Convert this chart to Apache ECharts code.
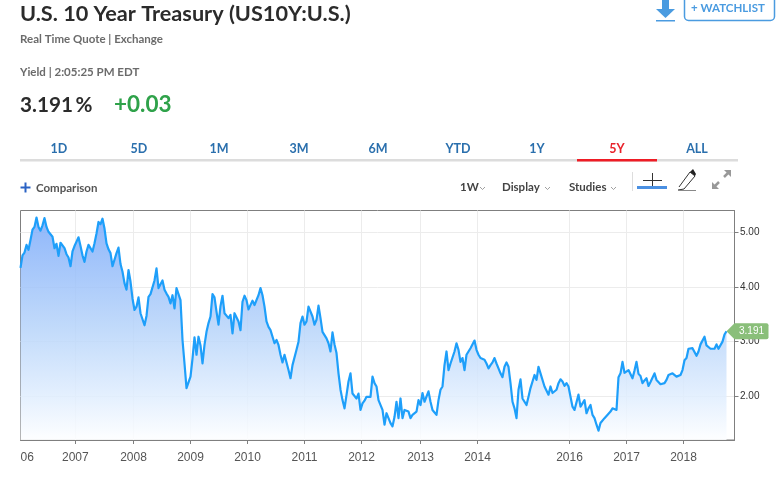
<!DOCTYPE html>
<html><head><meta charset="utf-8">
<style>html,body{margin:0;padding:0;background:#fff}#c{width:778px;height:479px}</style>
<script src="https://cdn.jsdelivr.net/npm/echarts@6/dist/echarts.min.js"></script>
</head><body><div id="c"></div>
<script>
const yields = [
4.35,4.58,4.63,4.77,4.68,4.86,5.05,5.10,5.27,5.10,5.03,5.13,5.26,5.10,5.01,4.98,4.92,4.71,4.79,4.57,4.81,4.81,4.71,4.60,4.54,4.38,4.65,4.75,4.83,4.91,4.75,4.58,4.46,4.65,4.77,4.77,4.65,4.80,4.98,5.19,5.15,5.25,5.07,4.80,4.69,
4.62,4.38,4.36,4.62,4.72,4.42,4.28,4.07,3.95,4.31,4.10,3.79,3.58,3.64,3.81,3.52,3.49,3.30,3.47,3.82,3.87,3.84,4.12,4.34,3.98,3.98,4.12,3.95,3.88,3.82,3.70,3.85,3.61,3.98,3.98,3.76,3.03,2.60,2.15,2.15,2.36,2.69,3.08,2.76,3.09,
2.93,2.60,2.94,3.18,3.34,3.46,3.87,3.81,3.55,3.31,3.65,3.84,3.52,3.52,3.43,3.49,3.15,3.52,3.52,3.37,3.21,3.73,3.84,3.76,3.59,3.57,3.75,3.67,3.70,3.85,3.98,3.85,3.64,3.37,3.27,3.21,3.18,2.97,3.03,2.94,2.76,2.62,2.76,2.79,2.48,
2.33,2.57,2.54,2.85,3.00,3.34,3.46,3.31,3.37,3.64,3.64,3.46,3.31,3.40,3.66,3.43,3.18,3.18,3.06,2.97,2.82,3.17,2.95,2.79,2.42,2.12,1.93,1.78,2.02,2.27,2.42,2.05,2.02,1.96,2.05,1.75,1.87,1.92,1.99,1.99,1.99,2.36,2.24,2.18,1.93,
1.90,1.75,1.48,1.69,1.60,1.51,1.45,1.62,1.90,1.60,1.96,1.60,1.75,1.75,1.72,1.60,1.66,1.66,1.72,1.93,1.84,2.06,1.90,1.93,2.09,1.90,1.75,1.72,1.66,1.93,2.12,2.18,2.57,2.82,2.48,2.60,2.57,2.82,2.97,2.85,2.63,2.70,2.48,2.76,2.76,
2.88,2.91,3.02,2.85,2.76,2.70,2.70,2.67,2.60,2.51,2.57,2.62,2.70,2.60,2.51,2.42,2.35,2.54,2.62,2.54,2.24,1.90,1.78,1.60,2.12,2.31,1.96,1.96,1.84,1.99,2.15,2.15,2.39,2.30,2.54,2.42,2.39,2.18,2.15,2.03,2.18,2.06,2.03,2.12,2.24,
2.31,2.27,2.19,2.24,2.18,1.99,1.81,1.75,1.76,2.03,1.81,1.78,1.93,1.69,1.78,1.84,1.66,1.60,1.48,1.37,1.51,1.54,1.60,1.63,1.68,1.72,1.78,1.81,1.75,2.35,2.42,2.63,2.43,2.41,2.48,2.47,2.33,2.47,2.63,2.41,2.37,2.24,2.29,2.33,2.19,
2.26,2.27,2.42,2.30,2.27,2.22,2.21,2.24,2.30,2.39,2.36,2.42,2.39,2.36,2.36,2.39,2.48,2.66,2.70,2.87,2.88,2.88,2.85,2.74,2.82,2.95,2.94,3.09,2.93,2.91,2.87,2.85,2.87,2.95,2.87,2.85,3.00,3.13,3.191
];
const yearLabels = ['06','2007','2008','2009','2010','2011','2012','2013','2014','2016','2017','2018'];
const yearSamples = [0,27.4,56.5,85,113.5,142,170.5,200,228.5,274.5,303,331.5];
const yieldTicks = [2,3,4,5];
const tabLabels = ['1D','5D','1M','3M','6M','YTD','1Y','5Y','ALL'];
const tabCenters = [59,139,219,299,378,458,537,617,697];
const activeTab = '5Y';
const lastYield = '3.191';

const FONT = 'Lato, "Open Sans", sans-serif';
const txt = (text,x,y,size,color,weight,align) => ({type:'text',x,y,silent:true,z:10,
  style:{text,fill:color,font:`${weight||'normal'} ${size}px ${FONT}`,textAlign:align||'left',textVerticalAlign:'middle'}});
const seg = (x1,y1,x2,y2,color,w) => ({type:'line',silent:true,z:10,shape:{x1,y1,x2,y2},style:{stroke:color,lineWidth:w||1}});
const bar = (x,y,width,height,color) => ({type:'rect',silent:true,z:9,shape:{x,y,width,height},style:{fill:color}});
const chev = (x,y) => ({type:'polyline',silent:true,z:10,shape:{points:[[x,y],[x+2.5,y+2.5],[x+5,y]]},style:{stroke:'#888',lineWidth:0.8,fill:null}});

const graphics = [
  txt('U.S. 10 Year Treasury (US10Y:U.S.)',20,14,21.7,'#2b2b2b','bold'),
  txt('Real Time Quote | Exchange',20,39,11.5,'#6b6b6b','bold'),
  txt('Yield | 2:05:25 PM EDT',20,72,11.5,'#6b6b6b','bold'),
  txt('3.191\u2009%',20,105,20.7,'#2b2b2b','bold'),
  txt('+0.03',114,105,22.5,'#2fa24a','bold'),
  bar(20,159,718,2.5,'#dcdcdc'),
  bar(577,159,80,2.5,'#ee1c25'),
  ...tabLabels.map((t,i)=>txt(t,tabCenters[i],149,12.5,t===activeTab?'#e8222a':'#2a6fad','bold','center')),
  seg(20.5,187.5,30.5,187.5,'#2a62c4',2), seg(25.5,182.5,25.5,192.5,'#2a62c4',2),
  txt('Comparison',36,188,11.5,'#555','bold'),
  txt('1W',460,187.5,11.5,'#444','bold'), chev(480,187),
  txt('Display',502,187.5,11.5,'#444','bold'), chev(545,187),
  txt('Studies',569,187.5,11.5,'#444','bold'), chev(611,187),
  seg(632.5,172,632.5,191,'#ddd',1),
  seg(652.5,173,652.5,186,'#333',1), seg(643,180.5,662,180.5,'#333',1),
  bar(637,186,30,3,'#4a90e2'),
  {type:'polyline',silent:true,z:10,shape:{points:[[679,187],[690,172],[695,176],[684,189],[678,190]]},style:{stroke:'#333',lineWidth:1,fill:null}},
  seg(678,190.5,696,190.5,'#888',1),
  {type:'polygon',silent:true,z:10,shape:{points:[[690,172],[693,169],[696,174],[695,176]]},style:{fill:'#222'}},
  seg(714,187,719,182,'#999',2.5), {type:'polygon',silent:true,z:10,shape:{points:[[712,189],[712,182],[719,189]]},style:{fill:'#999'}},
  seg(724,177,729,172,'#999',2.5), {type:'polygon',silent:true,z:10,shape:{points:[[731,170],[731,177],[724,170]]},style:{fill:'#999'}},
  bar(662,0,7,10,'#4a9be0'),
  {type:'polygon',silent:true,z:10,shape:{points:[[656,9],[675,9],[665.5,18]]},style:{fill:'#4a9be0'}},
  bar(656,20,19,1.5,'#4a9be0'),
  {type:'rect',silent:true,z:9,shape:{x:684.5,y:-6,width:90,height:26.5,r:4},style:{fill:'#fff',stroke:'#4a9be0',lineWidth:1.5}},
  txt('+ WATCHLIST',691,8.5,11.5,'#4a9be0','bold')
];

const chart = echarts.init(document.getElementById('c'),null,{renderer:'canvas'});
chart.setOption({
  animation:false,
  backgroundColor:'#fff',
  graphic:graphics,
  grid:{left:20.5,top:210.5,width:714,height:229.5,show:true,borderColor:'#7f7f7f',borderWidth:1,backgroundColor:'transparent',containLabel:false},
  xAxis:{type:'value',min:0,max:357,
    axisLine:{show:true,onZero:false,lineStyle:{color:'#7f7f7f'}},
    axisTick:{show:true,length:4,lineStyle:{color:'#7f7f7f'},customValues:yearSamples.slice(1)},
    axisLabel:{customValues:yearSamples,alignMinLabel:'left',hideOverlap:false,margin:12,fontFamily:'"Liberation Sans",Arial,sans-serif',fontSize:12,color:'#555',
      formatter:v=>yearLabels[yearSamples.indexOf(v)]},
    splitLine:{show:true,lineStyle:{color:'#ececec',width:1}}},
  yAxis:{type:'value',position:'right',min:1.2,max:5.4,
    axisLine:{show:true,onZero:false,lineStyle:{color:'#7f7f7f'}},
    axisTick:{show:true,length:4,lineStyle:{color:'#7f7f7f'},customValues:yieldTicks},
    axisLabel:{customValues:yieldTicks,margin:5.5,fontFamily:'"Liberation Sans",Arial,sans-serif',fontSize:10,color:'#333',formatter:v=>v.toFixed(2)},
    splitLine:{show:true,lineStyle:{color:'#ececec',width:1}}},
  series:[{type:'line',data:yields.map((v,i)=>[i,v]),showSymbol:false,symbol:'none',smooth:false,
    lineStyle:{color:'#1e9ffa',width:2.2,join:'round'},
    areaStyle:{origin:'start',opacity:1,color:new echarts.graphic.LinearGradient(0,0,0,1,[
      {offset:0,color:'rgba(123,170,250,0.85)'},{offset:0.5,color:'rgba(183,212,250,0.85)'},{offset:0.8,color:'rgba(223,237,254,0.85)'},{offset:1,color:'rgba(253,254,255,0.85)'}])},
    markPoint:{silent:true,animation:false,symbol:'path://M0 8 L8 0 L40 0 Q42 0 42 2 L42 14 Q42 16 40 16 L8 16 Z',symbolSize:[42,16],symbolOffset:[21,0],
      itemStyle:{color:'#8abf7a'},
      label:{show:true,position:'inside',offset:[4,0],color:'#fff',fontFamily:'"Liberation Sans",Arial,sans-serif',fontSize:10,formatter:lastYield},
      data:[{coord:[yields.length-1,yields[yields.length-1]],z:20}]}
  }]
});
</script></body></html>
